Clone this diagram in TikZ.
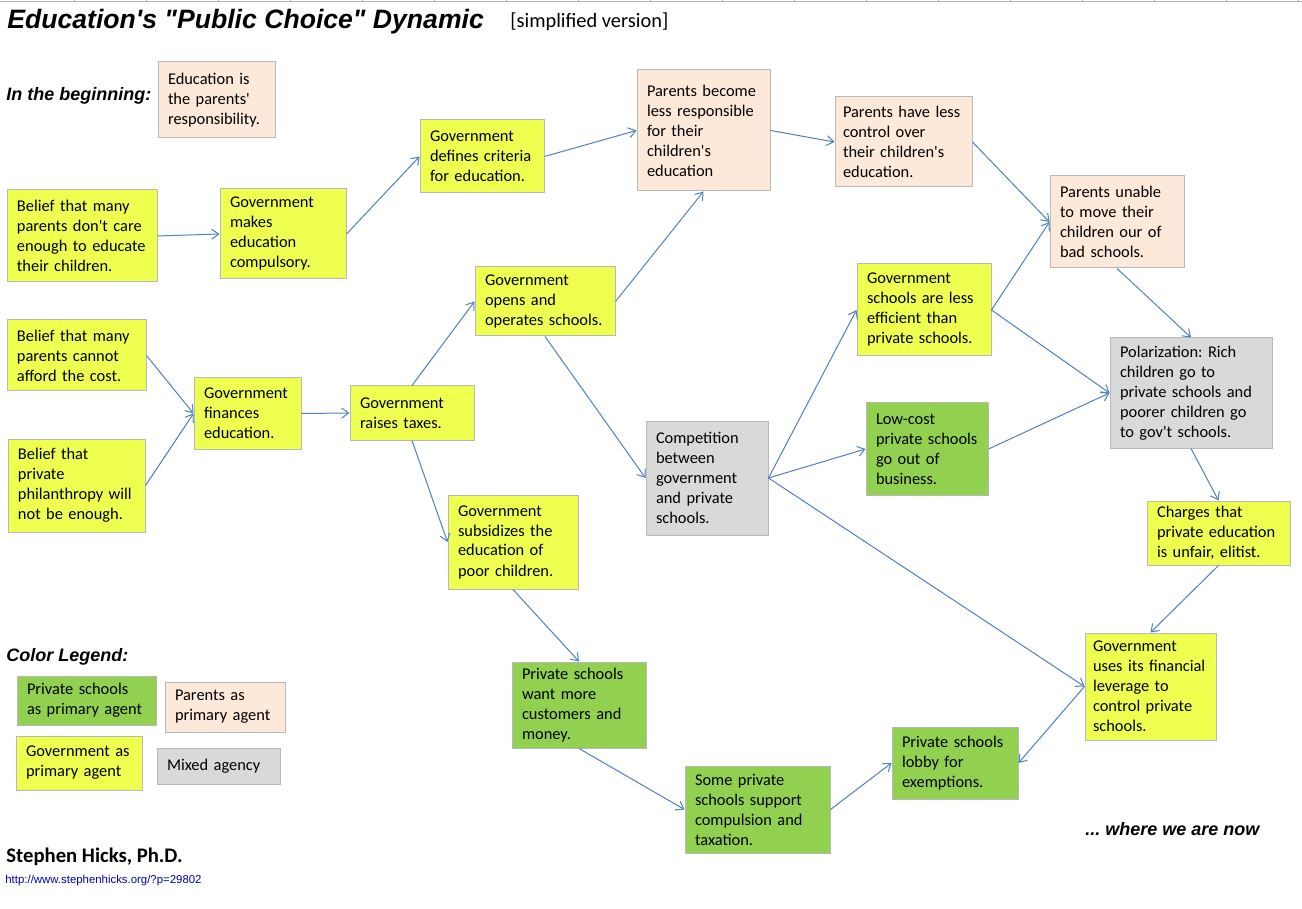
\documentclass[tikz,border=0pt]{standalone}
\usepackage{fontspec}
\setmainfont{Carlito}[Ligatures=TeXOff]
\newfontfamily\arial{Liberation Sans}
\usetikzlibrary{arrows.meta}
\definecolor{amarelo}{RGB}{238,255,80}
\definecolor{pessego}{RGB}{253,233,217}
\definecolor{verde}{RGB}{146,208,80}
\definecolor{cinza}{RGB}{217,217,217}
\definecolor{azul}{RGB}{79,129,189}
\definecolor{borda}{RGB}{185,185,185}
\definecolor{link}{RGB}{0,0,190}
\frenchspacing
\begin{document}
\begin{tikzpicture}[x=0.5pt,y=-0.5pt,>={Straight Barb[length=3.5pt,width=5pt]}]
\tikzstyle{caixa}=[draw=borda, line width=0.5pt, inner xsep=5pt, inner ysep=0pt, align=left, font=\fontsize{8.2}{10}\selectfont]
\tikzstyle{gov}=[caixa, fill=amarelo]
\tikzstyle{pais}=[caixa, fill=pessego]
\tikzstyle{priv}=[caixa, fill=verde]
\tikzstyle{misto}=[caixa, fill=cinza]
\tikzstyle{liga}=[->, draw=azul, line width=0.5pt]
\tikzstyle{rotulo}=[anchor=base west, inner sep=0, font=\arial\bfseries\itshape\fontsize{9}{11}\selectfont]
\useasboundingbox (0,0) rectangle (1302,909);
\fill[white] (0,0) rectangle (1302,909);
\draw[black!30, line width=0.5pt] (0,1.5)--(1302,1.5);
\foreach \x in {74,146,...,1298} \draw[black!30, line width=0.5pt] (\x,0)--(\x,1.5);
% titulo
\node[anchor=base west, inner sep=0, font=\arial\bfseries\itshape\fontsize{13.3}{16}\selectfont] (titulo) at(7,29){Education's "Public Choice" Dynamic};
\node[anchor=base west, inner sep=0, font=\fontsize{10.2}{12}\selectfont] (versao) at(510,28){[simplified version]};
\node[rotulo] (inicio) at(6,101){In the beginning:};
\node[pais, text width=48.5pt, minimum height=38pt] (edu) at(216.5,100){Education is\\the parents'\\responsibility.};
% caixas
\node[gov, text width=65pt, minimum height=46pt] (bcare) at(82,236){Belief that many\\parents don't care\\enough to educate\\their children.};
\node[gov, text width=53pt, minimum height=45pt] (compul) at(283,234){Government\\makes\\education\\compulsory.};
\node[gov, text width=52pt, minimum height=36.5pt] (crit) at(482,156.5){Government\\defines criteria\\for education.};
\node[pais, text width=56.5pt, minimum height=60.5pt] (lessresp) at(703.5,130.5){Parents become\\less responsible\\for their\\children's\\education};
\node[pais, inner xsep=4pt, text width=60.5pt, minimum height=45pt] (lessctrl) at(903.5,142){Parents have less\\control over\\their children's\\education.};
\node[pais, text width=57pt, minimum height=46pt] (unable) at(1117,222){Parents unable\\to move their\\children our of\\bad schools.};
\node[gov, text width=59.5pt, minimum height=35.5pt] (afford) at(76.5,355.5){Belief that many\\parents cannot\\afford the cost.};
\node[gov, text width=58.5pt, minimum height=46.5pt] (philan) at(76.5,485.5){Belief that\\private\\philanthropy will\\not be enough.};
\node[gov, text width=43.5pt, minimum height=35.5pt] (fin) at(247.5,413.5){Government\\finances\\education.};
\node[gov, text width=52pt, minimum height=27pt] (taxes) at(412,413){Government\\raises taxes.};
\node[gov, text width=60pt, minimum height=34.5pt] (opens) at(545,301.5){Government\\opens and\\operates schools.};
\node[gov, text width=55pt, minimum height=47pt] (subs) at(513,542){Government\\subsidizes the\\education of\\poor children.};
\node[misto, text width=51pt, minimum height=57pt] (comp) at(707,478){Competition\\between\\government\\and private\\schools.};
\node[gov, text width=57pt, minimum height=46pt] (ineff) at(924,310){Government\\schools are less\\efficient than\\private schools.};
\node[priv, text width=51pt, minimum height=46pt] (lowcost) at(927,449){Low-cost\\private schools\\go out of\\business.};
\node[misto, text width=71pt, minimum height=55pt] (polar) at(1191,393){Polarization: Rich\\children go to\\private schools and\\poorer children go\\to gov't schools.};
\node[gov, text width=61.5pt, minimum height=32pt] (charges) at(1218.5,533){Charges that\\private education\\is unfair, elitist.};
\node[gov, inner xsep=4pt, text width=57.5pt, minimum height=53.5pt] (lever) at(1150.5,686.5){Government\\uses its financial\\leverage to\\control private\\schools.};
\node[priv, text width=57pt, minimum height=43pt] (want) at(579,705){Private schools\\want more\\customers and\\money.};
\node[priv, text width=62.5pt, minimum height=43.5pt] (support) at(757.5,809.5){Some private\\schools support\\compulsion and\\taxation.};
\node[priv, text width=53pt, minimum height=36pt] (lobby) at(955,763){Private schools\\lobby for\\exemptions.};
% ligacoes
\draw[liga](bcare.east)--(compul.west);
\draw[liga](compul.east)--(crit.west);
\draw[liga](crit.east)--(lessresp.west);
\draw[liga](lessresp.east)--(lessctrl.west);
\draw[liga](lessctrl.east)--(unable.west);
\draw[liga](ineff.east)--(unable.west);
\draw[liga](unable.south)--(polar.north);
\draw[liga](ineff.east)--(polar.west);
\draw[liga](lowcost.east)--(polar.west);
\draw[liga](polar.south)--(charges.north);
\draw[liga](charges.south)--(lever.north);
\draw[liga](comp.east)--(lever.west);
\draw[liga](lever.west)--(lobby.east);
\draw[liga](comp.east)--(ineff.west);
\draw[liga](comp.east)--(lowcost.west);
\draw[liga](opens.south)--(comp.west);
\draw[liga](opens.east)--(lessresp.south);
\draw[liga](taxes.north)--(opens.west);
\draw[liga](taxes.south)--(subs.west);
\draw[liga](fin.east)--(taxes.west);
\draw[liga](afford.east)--(fin.west);
\draw[liga](philan.east)--(fin.west);
\draw[liga](subs.south)--(want.north);
\draw[liga](want.south)--(support.west);
\draw[liga](support.east)--(lobby.west);
% legenda
\node[rotulo] (legenda) at(6,661){Color Legend:};
\node[priv, text width=59.5pt, minimum height=24.5pt] (lverde) at(86.5,700.5){Private schools\\as primary agent};
\node[pais, text width=50pt, minimum height=25pt] (lpais) at(225,707){Parents as\\primary agent};
\node[gov, text width=53pt, minimum height=27pt] (lgov) at(79,763){Government as\\primary agent};
\node[misto, text width=51.5pt, minimum height=18pt] (lmisto) at(218.5,766){Mixed agency};
\node[rotulo] (agora) at(1085,835){... where we are now};
\node[anchor=base west, inner sep=0, font=\bfseries\fontsize{10.35}{12}\selectfont] (autor) at(6,862){Stephen Hicks, Ph.D.};
\node[anchor=base west, inner sep=0, text=link, font=\arial\fontsize{5.7}{7}\selectfont] (url) at(5,883){http://www.stephenhicks.org/?p=29802};
\end{tikzpicture}
\end{document}
